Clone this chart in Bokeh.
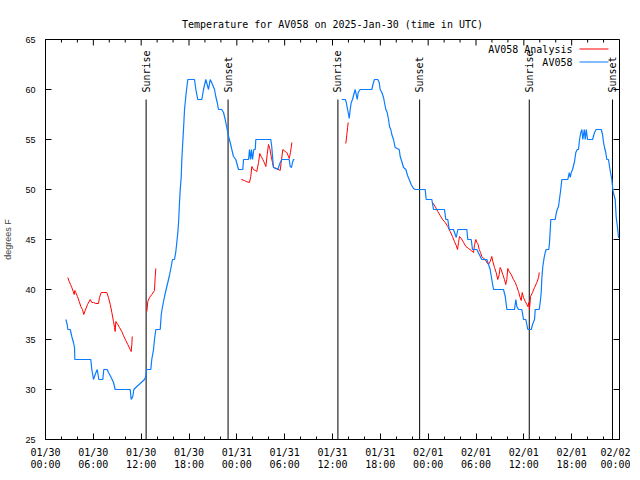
import math
from bokeh.plotting import figure
from bokeh.models import Range1d, FixedTicker
from bokeh.core.properties import value
from bokeh.embed import file_html
from bokeh.resources import INLINE

NaN = float("nan")

# ---- data: hours since 2025-01-30 00:00 UTC, temperature in degrees F ----
# AV058 observations (two segments)
obs_hours_1 = [2.55, 2.72, 2.80, 3.10, 3.30, 3.51, 3.64, 3.68, 5.68, 5.81, 6.02, 6.23, 6.49, 6.69,
               7.19, 7.31, 7.74, 7.90, 8.24, 8.53, 8.74, 10.62, 10.75, 10.95, 11.08, 11.45, 11.88,
               12.42, 12.58, 12.67, 13.21, 13.33, 13.55, 13.67, 13.84, 14.39, 14.52, 14.68, 14.93,
               15.22, 15.52, 15.77, 15.93, 16.18, 16.35, 16.47, 16.60, 16.69, 16.81, 16.90, 17.02,
               17.10, 17.19, 17.31, 17.44, 17.65, 17.85, 18.69, 18.86, 19.10, 19.61, 19.82, 20.11,
               20.45, 20.66, 20.95, 21.20, 21.36, 21.54, 21.70, 22.11, 22.33, 22.54, 22.74, 22.96,
               23.17, 23.37, 23.58, 23.87, 24.21, 24.75, 24.84, 25.47, 25.59, 25.72, 25.84, 25.97,
               26.13, 26.31, 26.38, 28.26, 28.39, 28.51, 28.60, 29.14, 29.44, 29.64, 30.57, 30.69,
               30.86, 30.98, 31.11, 31.23]
obs_temp_1 = [37.0, 36.5, 36.0, 36.0, 35.3, 34.7, 34.2, 33.0, 33.0, 32.0, 31.0, 31.5, 32.0, 31.0,
              31.0, 32.0, 32.0, 31.7, 31.2, 30.7, 30.0, 30.0, 29.0, 29.3, 30.0, 30.3, 30.6,
              31.0, 31.3, 32.0, 32.0, 33.0, 34.0, 35.0, 36.0, 36.0, 37.5, 38.3, 39.3,
              40.3, 41.3, 42.3, 43.0, 43.0, 43.8, 44.7, 45.7, 46.7, 48.7, 50.0, 51.2,
              53.0, 54.3, 56.0, 58.0, 59.7, 61.0, 61.0, 60.0, 59.0, 59.0, 60.0, 61.0,
              60.0, 61.0, 60.5, 60.0, 59.3, 58.7, 58.0, 58.0, 57.7, 57.0, 56.2, 55.3,
              54.7, 54.0, 53.3, 53.0, 52.0, 52.0, 53.0, 53.0, 54.0, 53.0, 54.0, 53.0,
              54.0, 54.0, 55.0, 55.0, 54.2, 53.0, 52.2, 52.0, 52.7, 53.0, 53.0, 52.3,
              52.2, 52.7, 53.0, 53.0]
obs_hours_2 = [37.17, 37.60, 37.73, 37.89, 38.02, 38.10, 38.22, 38.35, 38.51, 38.67, 38.85, 38.97,
               39.10, 39.22, 39.47, 40.93, 41.14, 41.27, 41.68, 41.86, 41.98, 42.19, 42.40, 42.52,
               42.69, 42.86, 43.03, 43.15, 43.31, 43.44, 43.65, 43.86, 44.37, 44.49, 44.69, 44.91,
               45.20, 45.41, 45.62, 45.87, 46.16, 46.37, 47.63, 47.75, 48.46, 48.67, 50.05, 50.21,
               50.46, 50.64, 51.18, 51.39, 51.52, 51.72, 52.85, 52.97, 53.40, 53.56, 54.10, 54.73,
               55.36, 55.57, 55.78, 55.98, 56.20, 57.45, 57.67, 57.87, 58.83, 59.00, 59.12, 59.33,
               59.75, 59.96, 60.25, 60.43, 60.50, 60.93, 61.09, 61.34, 61.43, 61.93, 62.05, 62.18,
               62.25, 62.38, 62.55, 62.68, 62.80, 63.13, 63.22, 63.34, 63.38, 63.94, 64.06, 64.19,
               64.35, 64.48, 64.60, 64.77, 65.52, 65.70, 65.82, 65.95, 66.11, 66.24, 66.36, 66.52,
               66.70, 66.86, 66.99, 67.15, 67.28, 67.40, 67.58, 67.70, 67.83, 67.99, 68.62, 68.87,
               69.08, 69.71, 69.87, 70.00, 70.12, 70.28, 70.41, 70.62, 70.75, 70.87, 71.04, 71.16,
               71.29, 71.46, 71.59, 71.75, 71.88, 72.00]
obs_temp_2 = [59.0, 59.0, 58.7, 58.0, 57.5, 57.1, 58.0, 58.7, 59.0, 59.5, 60.0, 59.5,
              59.0, 59.7, 60.0, 60.0, 60.7, 61.0, 61.0, 60.7, 60.0, 59.7, 59.2, 58.7,
              58.0, 57.7, 57.0, 56.3, 56.0, 55.5, 55.0, 54.2, 54.0, 53.3, 52.8, 52.2,
              52.0, 51.4, 51.0, 50.5, 50.1, 50.0, 50.0, 49.0, 49.0, 48.0, 48.0, 47.0,
              47.0, 46.0, 46.0, 45.5, 45.2, 46.0, 46.0, 45.0, 45.0, 44.0, 44.0, 43.0,
              43.0, 42.5, 42.0, 41.0, 40.0, 40.0, 39.3, 38.0, 38.0, 39.0, 38.3, 38.0,
              38.0, 37.0, 37.0, 36.3, 36.0, 36.0, 36.5, 37.0, 38.0, 38.0, 38.7, 39.7,
              41.0, 42.3, 43.2, 43.7, 44.0, 44.0, 44.7, 46.3, 47.0, 47.0, 47.6, 48.0,
              48.3, 49.1, 49.8, 51.0, 51.0, 51.7, 51.2, 51.7, 52.0, 52.4, 52.8, 53.7,
              54.0, 54.0, 55.0, 55.7, 56.0, 55.0, 56.0, 55.0, 56.0, 55.0, 55.0, 55.7,
              56.0, 56.0, 55.5, 54.7, 54.2, 53.7, 53.0, 53.0, 52.3, 51.7, 51.0, 50.0,
              49.5, 49.0, 47.2, 46.2, 45.2, 45.2]

# AV058 Analysis (five segments)
ana_hours_1 = [2.80, 2.97, 3.14, 3.30, 3.48, 3.60, 3.68, 3.80, 4.01, 4.23, 4.43, 4.64, 4.80, 4.98,
               5.27, 5.61, 5.81, 6.02, 6.31, 6.65, 6.77, 6.99, 7.31, 7.69, 7.90, 8.12, 8.32, 8.53,
               8.66, 8.74, 8.82, 9.07, 9.28, 9.57, 9.78, 10.07, 10.32, 10.62, 10.75, 10.83, 10.88]
ana_temp_1 = [41.2, 40.8, 40.5, 40.2, 39.8, 39.5, 39.9, 39.7, 39.3, 38.8, 38.3, 38.0, 37.5, 37.9,
              38.5, 39.0, 38.7, 38.7, 38.6, 38.6, 39.2, 39.7, 39.7, 39.7, 39.2, 38.5, 37.7, 36.8,
              36.2, 35.8, 36.8, 36.5, 36.2, 35.8, 35.4, 34.9, 34.5, 34.0, 33.8, 34.5, 35.3]
ana_hours_2 = [12.71, 12.83, 13.05, 13.33, 13.67, 13.76, 13.84]
ana_temp_2 = [37.8, 38.8, 39.2, 39.5, 39.9, 41.3, 42.1]
ana_hours_3 = [24.55, 24.96, 25.17, 25.59, 25.75, 25.88, 26.09, 26.31, 26.51, 26.72, 26.88, 27.06,
               27.26, 27.44, 27.64, 27.81, 27.97, 28.14, 28.31, 28.47, 28.60, 29.01, 29.44, 29.56,
               29.77, 30.07, 30.27, 30.48, 30.57, 30.73, 30.82, 30.90]
ana_temp_3 = [51.0, 50.9, 50.8, 50.7, 51.3, 52.3, 52.0, 51.9, 51.8, 52.7, 53.6, 53.3,
              53.0, 52.7, 52.3, 53.5, 54.5, 54.1, 53.3, 52.7, 52.2, 52.1, 51.9, 52.7,
              54.0, 53.8, 53.7, 53.3, 53.1, 53.7, 54.2, 54.7]
ana_hours_4 = [37.67, 37.80, 37.89, 37.97]
ana_temp_4 = [54.6, 55.5, 56.2, 56.7]
ana_hours_5 = [48.54, 48.88, 49.21, 49.51, 49.80, 50.14, 50.46, 50.76, 51.05, 51.30, 51.52, 51.68,
               51.81, 51.93, 52.15, 52.44, 52.73, 53.06, 53.40, 53.69, 53.82, 53.98, 54.10, 54.23,
               54.40, 54.57, 54.73, 54.95, 55.16, 55.36, 55.57, 55.78, 55.98, 56.11, 56.32, 56.53,
               56.73, 56.91, 57.03, 57.16, 57.36, 57.57, 57.73, 57.86, 57.99, 58.16, 58.42, 58.70,
               58.92, 59.12, 59.33, 59.54, 59.67, 59.80, 59.96, 60.18, 60.38, 60.50, 60.63, 60.71,
               60.84, 61.09, 61.34, 61.63, 61.85, 61.93]
ana_temp_5 = [48.7, 48.3, 47.8, 47.4, 47.0, 46.7, 46.3, 45.8, 45.3, 44.8, 44.4, 44.0,
              44.7, 45.3, 45.1, 44.7, 44.3, 44.1, 43.9, 43.7, 44.5, 45.0, 44.7, 44.6,
              44.0, 43.7, 43.3, 43.1, 43.0, 42.7, 42.5, 42.8, 43.3, 42.8, 42.2, 41.7,
              41.0, 41.5, 42.2, 42.0, 41.5, 41.0, 40.5, 41.0, 42.1, 41.8, 41.5, 41.0,
              40.7, 40.3, 39.8, 39.2, 38.9, 39.7, 39.2, 38.8, 38.5, 38.3, 38.7, 38.0,
              39.3, 39.7, 40.2, 40.7, 41.2, 41.7]

sunrise_hours = [12.62, 36.68, 60.68]
sunset_hours = [22.90, 46.93, 71.12]

x_tick_hours = [0, 6, 12, 18, 24, 30, 36, 42, 48, 54, 60, 66, 72]
x_tick_labels = ["01/30\n00:00", "01/30\n06:00", "01/30\n12:00", "01/30\n18:00",
                 "01/31\n00:00", "01/31\n06:00", "01/31\n12:00", "01/31\n18:00",
                 "02/01\n00:00", "02/01\n06:00", "02/01\n12:00", "02/01\n18:00",
                 "02/02\n00:00"]
x_minor_hours = list(range(0, 73, 2))
y_ticks = [25, 30, 35, 40, 45, 50, 55, 60, 65]

series_names = ["AV058 Analysis", "AV058"]
series_colors = ["#ff0000", "#0a7cff"]

# ---- build line data with NaN gaps ----
def join(*segs):
    out = []
    for i, s in enumerate(segs):
        if i:
            out.append(NaN)
        out.extend(s)
    return out

obs_x = join(obs_hours_1, obs_hours_2)
obs_y = join(obs_temp_1, obs_temp_2)
ana_x = join(ana_hours_1, ana_hours_2, ana_hours_3, ana_hours_4, ana_hours_5)
ana_y = join(ana_temp_1, ana_temp_2, ana_temp_3, ana_temp_4, ana_temp_5)

X0, X1 = 0, 72
Y0, Y1 = 25, 65
FW, FH = 574, 400
MONO = "DejaVu Sans Mono"
SANS = "Liberation Sans"

p = figure(frame_width=FW, frame_height=FH,
           x_range=Range1d(X0, X1), y_range=Range1d(Y0, Y1),
           output_backend="svg", toolbar_location=None,
           min_border_left=39, min_border_right=11, min_border_top=39, min_border_bottom=22)
p.background_fill_color = "white"
p.border_fill_color = "white"
p.outline_line_color = "black"
p.outline_line_width = 1
p.outline_line_alpha = 1
p.grid.visible = False

p.title.text = "Temperature for AV058 on 2025-Jan-30 (time in UTC)"
p.title.align = "center"
p.title.text_font = MONO
p.title.text_font_size = "10px"
p.title.text_font_style = "normal"
p.title.text_color = "black"
p.title.standoff = 19

xa = p.xaxis[0]
xa.ticker = FixedTicker(ticks=x_tick_hours, minor_ticks=x_minor_hours)
xa.major_label_overrides = {t: l for t, l in zip(x_tick_hours, x_tick_labels)}
xa.major_tick_in = 6
xa.major_tick_out = 0
xa.minor_tick_in = 3
xa.minor_tick_out = 0
xa.major_label_standoff = 7
xa.major_label_text_font = MONO
xa.major_label_text_font_size = "10px"
xa.major_label_text_color = "black"
xa.major_label_text_line_height = 1.1
xa.axis_line_color = "black"
xa.major_tick_line_color = "black"
xa.minor_tick_line_color = "black"

ya = p.yaxis[0]
ya.ticker = FixedTicker(ticks=y_ticks, minor_ticks=[])
ya.major_tick_in = 6
ya.major_tick_out = 0
ya.minor_tick_line_color = None
ya.major_label_standoff = 10
ya.major_label_text_font = SANS
ya.major_label_text_font_size = "9px"
ya.major_label_text_color = "black"
ya.axis_label = "degrees F"
ya.axis_label_text_font = SANS
ya.axis_label_text_font_size = "9px"
ya.axis_label_text_font_style = "normal"
ya.axis_label_standoff = 9
ya.axis_line_color = "black"

# mirrored ticks on the top and right frame edges (gnuplot style)
dy_major = 6 * (Y1 - Y0) / FH
dy_minor = 3 * (Y1 - Y0) / FH
dx_major = 6 * (X1 - X0) / FW
minor_only = [t for t in x_minor_hours if t not in x_tick_hours]
p.segment(x0=x_tick_hours, y0=[Y1] * len(x_tick_hours), x1=x_tick_hours,
          y1=[Y1 - dy_major] * len(x_tick_hours), line_color="black", line_width=1)
p.segment(x0=minor_only, y0=[Y1] * len(minor_only), x1=minor_only,
          y1=[Y1 - dy_minor] * len(minor_only), line_color="black", line_width=1)
p.segment(x0=[X1] * len(y_ticks), y0=y_ticks, x1=[X1 - dx_major] * len(y_ticks), y1=y_ticks,
          line_color="black", line_width=1)

# sunrise / sunset markers
LINE_TOP = 59
LABEL_Y = 59.7
p.segment(x0=sunrise_hours, y0=[Y0] * 3, x1=sunrise_hours, y1=[LINE_TOP] * 3,
          line_color="black", line_width=1)
p.segment(x0=sunset_hours, y0=[Y0] * 3, x1=sunset_hours, y1=[LINE_TOP] * 3,
          line_color="black", line_width=1)
p.text(x=sunrise_hours, y=[LABEL_Y] * 3, text=["Sunrise"] * 3, angle=math.pi / 2,
       text_align="left", text_baseline="middle", text_font=value(MONO),
       text_font_size="10px", text_color="black")
p.text(x=sunset_hours, y=[LABEL_Y] * 3, text=["Sunset"] * 3, angle=math.pi / 2,
       text_align="left", text_baseline="middle", text_font=value(MONO),
       text_font_size="10px", text_color="black")

# series
p.line(ana_x, ana_y, line_color=series_colors[0], line_width=1)
p.line(obs_x, obs_y, line_color=series_colors[1], line_width=1.2)

# legend (gnuplot style: label then sample line), top right inside the frame
leg_x0, leg_x1, leg_tx = 66.98, 70.62, 66.1
leg_y = [64.05, 62.75]
p.text(x=[leg_tx, leg_tx], y=leg_y, text=series_names, text_align="right",
       text_baseline="middle", text_font=value(MONO), text_font_size="10px",
       text_color="black")
for yy, col, w in zip(leg_y, series_colors, [1, 1.2]):
    p.line(x=[leg_x0, leg_x1], y=[yy, yy], line_color=col, line_width=w)

open("out.html", "w").write(file_html(p, INLINE))
